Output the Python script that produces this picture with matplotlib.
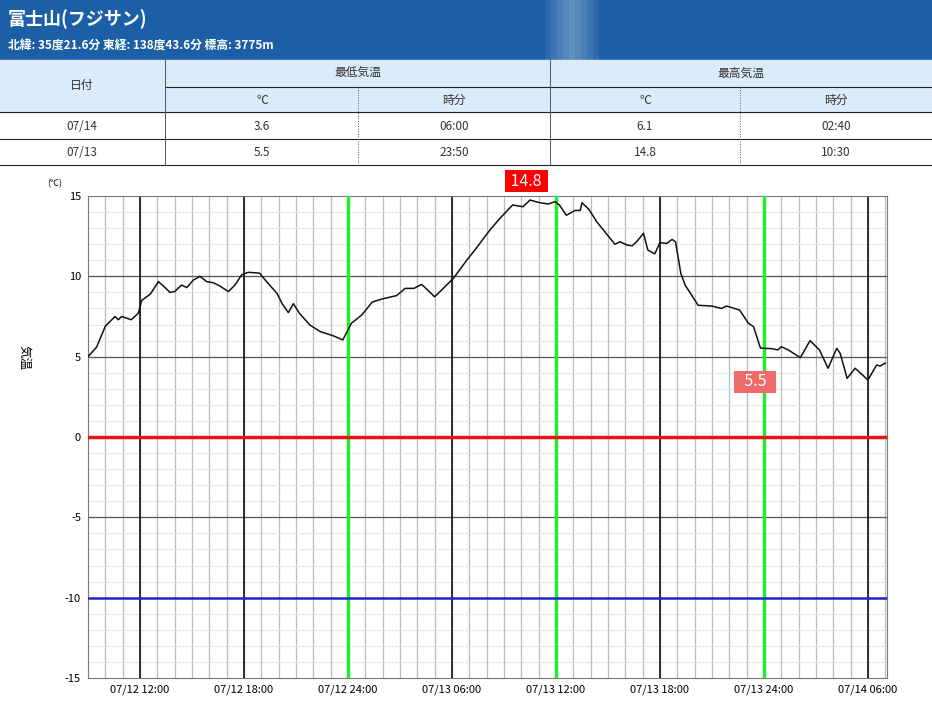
import numpy as np
import matplotlib.pyplot as plt
from matplotlib.patches import Rectangle
import matplotlib

matplotlib.rc('font', family='Noto Sans CJK JP')
matplotlib.rcParams['axes.unicode_minus'] = False

# hours since 07/12 09:00, temperature in degC
hours = [0.0, 0.5, 1.0, 1.56, 1.75, 1.94, 2.5, 2.9, 3.1, 3.6, 4.06, 4.35, 4.73, 5.0, 5.4, 5.7,
         6.08, 6.46, 6.85, 7.23, 7.6, 8.1, 8.48, 8.87, 9.25, 9.9, 10.3, 10.9, 11.2, 11.56, 11.85,
         12.2, 12.8, 13.4, 14.15, 14.7, 15.2, 15.8, 16.4, 17.0, 17.8, 18.3, 18.8, 19.25, 20.0,
         20.5, 21.1, 21.85, 22.4, 23.2, 23.8, 24.5, 25.1, 25.5, 26.0, 26.55, 26.95, 27.2, 27.6,
         28.1, 28.4, 28.5, 28.9, 29.35, 29.8, 30.4, 30.7, 31.1, 31.4, 31.65, 32.05, 32.3, 32.7,
         33.0, 33.4, 33.7, 33.9, 34.2, 34.45, 35.2, 35.99, 36.55, 36.85, 37.6, 38.1, 38.4, 38.8,
         39.45, 39.8, 40.0, 40.4, 41.1, 41.66, 42.2, 42.7, 43.2, 43.4, 43.8, 44.26, 45.0, 45.5,
         45.7, 46.0]
temps = [5.0, 5.6, 6.9, 7.5, 7.3, 7.5, 7.3, 7.7, 8.5, 8.9, 9.67, 9.4, 9.0, 9.05, 9.46, 9.3,
         9.77, 10.0, 9.67, 9.6, 9.4, 9.05, 9.46, 10.1, 10.25, 10.2, 9.67, 8.95, 8.3, 7.74, 8.3,
         7.7, 6.97, 6.56, 6.3, 6.04, 7.08, 7.6, 8.4, 8.6, 8.8, 9.25, 9.25, 9.5, 8.73,
         9.25, 9.9, 11.0, 11.75, 12.9, 13.65, 14.44, 14.33, 14.75, 14.6, 14.5, 14.65, 14.44, 13.8,
         14.1, 14.1, 14.58, 14.17, 13.4, 12.8, 12.0, 12.15, 11.95, 11.9, 12.15, 12.68, 11.64, 11.4,
         12.1, 12.05, 12.3, 12.15, 10.2, 9.46, 8.2, 8.15, 8.0, 8.15, 7.9, 7.08, 6.87, 5.53,
         5.5, 5.42, 5.62, 5.42, 4.94, 6.0, 5.42, 4.28, 5.52, 5.2, 3.65, 4.28, 3.55, 4.48,
         4.42, 4.6]

xtick_hours = [3, 9, 15, 21, 27, 33, 39, 45]
xtick_labels = ['07/12 12:00', '07/12 18:00', '07/12 24:00', '07/13 06:00',
                '07/13 12:00', '07/13 18:00', '07/13 24:00', '07/14 06:00']
green_hours = [15, 27, 39]
yticks = [-15, -10, -5, 0, 5, 10, 15]

table_head = ['日付', '最低気温', '最高気温']
table_sub = ['℃', '時分', '℃', '時分']
table_rows = [['07/14', '3.6', '06:00', '6.1', '02:40'],
              ['07/13', '5.5', '23:50', '14.8', '10:30']]

W, H = 932, 724
fig = plt.figure(figsize=(W / 100, H / 100), dpi=100)

def fx(px):
    return px / W

def fy(py):
    return 1 - py / H

# header band with soft light streak
fig.patches.append(Rectangle((0, fy(60)), 1, 60 / H, transform=fig.transFigure,
                             color='#1c5fa6', zorder=0))
for i, a in enumerate([0.08, 0.14, 0.2, 0.26, 0.3, 0.26, 0.2, 0.14, 0.08]):
    fig.patches.append(Rectangle((fx(545 + i * 6), fy(60)), 6 / W, 60 / H,
                                 transform=fig.transFigure, color='white', alpha=a,
                                 lw=0, zorder=0))
fig.text(fx(8), fy(19), '富士山(フジサン)', color='white', fontsize=13, fontweight='bold', va='center')
fig.text(fx(8), fy(45), '北緯: 35度21.6分 東経: 138度43.6分 標高: 3775m', color='white',
         fontsize=8.5, fontweight='bold', va='center')

# table
fig.patches.append(Rectangle((0, fy(112)), 1, 52 / H, transform=fig.transFigure,
                             color='#dcebfa', zorder=0))
def hline(py, x0=0, x1=W, ls='-'):
    fig.add_artist(plt.Line2D([fx(x0), fx(x1)], [fy(py), fy(py)], color='#222222', lw=0.8, ls=ls))
def vline(px, y0, y1, ls='-', c='#555555'):
    fig.add_artist(plt.Line2D([fx(px), fx(px)], [fy(y0), fy(y1)], color=c, lw=0.7, ls=ls))

hline(112); hline(139); hline(165)
hline(87, 165, W)
vline(165, 60, 165); vline(550, 60, 165)
vline(358, 87, 165, ls=':'); vline(740, 87, 165, ls=':')

fs = 8.5
fig.text(fx(82), fy(86), table_head[0], ha='center', va='center', fontsize=fs, color='#333333')
fig.text(fx(358), fy(73), table_head[1], ha='center', va='center', fontsize=fs, color='#333333')
fig.text(fx(741), fy(73), table_head[2], ha='center', va='center', fontsize=fs, color='#333333')
for cx, s in zip([262, 454, 645, 836], table_sub):
    fig.text(fx(cx), fy(100), s, ha='center', va='center', fontsize=fs, color='#333333')
col_x = [82, 262, 454, 645, 836]
for ry, row in zip([126, 152], table_rows):
    for cx, s in zip(col_x, row):
        fig.text(fx(cx), fy(ry), s, ha='center', va='center', fontsize=fs, color='#333333')

# chart
ax = fig.add_axes([fx(88), 46 / H, 799 / W, 482 / H])
x_max = 46.1
ax.set_xlim(0, x_max)
ax.set_ylim(-15, 15)

for h in np.arange(1, x_max, 1):
    ax.axvline(h, color='#bbbbbb', lw=0.9, zorder=1)
for t in range(-14, 15):
    ax.axhline(t, color='#dddddd', lw=0.8, ls=(0, (2, 1)), zorder=1)
for t in [-5, 5, 10]:
    ax.axhline(t, color='#555555', lw=0.9, zorder=2)
for h in xtick_hours:
    if h not in green_hours:
        ax.axvline(h, color='#111111', lw=1.2, zorder=2)
for h in green_hours:
    ax.axvline(h, color='#22ee33', lw=2.5, zorder=3)
ax.axhline(0, color='#ee1111', lw=2.5, zorder=3)
ax.axhline(-10, color='#2222cc', lw=1.8, zorder=3)

ax.plot(hours, temps, color='#111111', lw=1.1, zorder=4)

ax.set_xticks(xtick_hours)
ax.set_xticklabels(xtick_labels)
ax.set_yticks(yticks)
ax.tick_params(length=0, labelsize=8, pad=5)
for s in ax.spines.values():
    s.set_color('#777777')
    s.set_linewidth(0.8)

ax.text(25.3, 15.93, ' 14.8 ', color='white', fontsize=11.5, ha='center', va='center',
        bbox=dict(boxstyle='square,pad=0.15', fc='#ff0000', ec='none'), clip_on=False, zorder=6)
ax.text(38.5, 3.43, '  5.5  ', color='white', fontsize=11.5, ha='center', va='center',
        bbox=dict(boxstyle='square,pad=0.15', fc='#f06a6a', ec='none'), clip_on=False, zorder=6)

fig.text(fx(55), fy(184), '(℃)', fontsize=6.5, ha='center', va='center')
fig.text(fx(24), fy(357), '気温', fontsize=9, rotation=270, ha='center', va='center')

plt.savefig('out.png', dpi=100)
